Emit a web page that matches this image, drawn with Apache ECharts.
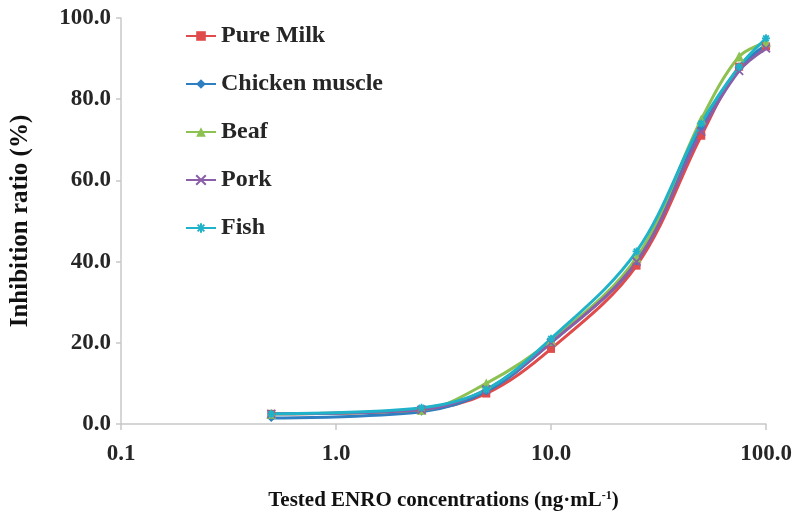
<!DOCTYPE html>
<html>
<head>
<meta charset="utf-8">
<script src="https://cdn.jsdelivr.net/npm/echarts@6/dist/echarts.min.js"></script>
<style>
  html, body { margin: 0; padding: 0; background: #fff; }
  #chart { width: 798px; height: 525px; }
</style>
</head>
<body>
<div id="chart"></div>
<script>
// concentrations (ng/mL)
const concentrations = [0.5, 2.5, 5, 10, 25, 50, 75, 100]

// inhibition ratio (%)
const pureMilk = [2.5, 3.5, 7.5, 18.5, 39.0, 71.0, 88.0, 93.0]
const chickenMuscle = [1.5, 3.0, 8.0, 20.0, 40.0, 73.0, 87.5, 93.5]
const beaf = [2.5, 3.5, 10.0, 20.5, 41.0, 75.0, 90.5, 94.0]
const pork = [2.5, 3.5, 8.5, 20.0, 40.0, 72.0, 87.0, 92.5]
const fish = [2.5, 4.0, 8.5, 21.0, 42.5, 74.0, 88.0, 95.0]

const seriesNames = ['Pure Milk', 'Chicken muscle', 'Beaf', 'Pork', 'Fish']
const seriesValues = [pureMilk, chickenMuscle, beaf, pork, fish]
const colors = ['#E04B4B', '#2E7FC1', '#8DC152', '#8A5FA8', '#1FB2C8']
const symbols = [
  'rect',
  'diamond',
  'triangle',
  'path://M0,0L10,10M10,0L0,10',
  'path://M5,0L5,10M0,5L10,5M1.5,1.5L8.5,8.5M8.5,1.5L1.5,8.5'
]

const font = '"Liberation Serif", "Times New Roman", serif'

const chart = echarts.init(document.getElementById('chart'))

const option = {
  animation: false,
  color: colors,
  grid: { left: 118, right: 32, top: 18, bottom: 101 },
  legend: {
    orient: 'vertical',
    left: 180,
    top: 19,
    itemGap: 24,
    itemWidth: 30,
    itemHeight: 12,
    textStyle: { fontFamily: font, fontWeight: 'bold', fontSize: 24, color: '#262626' },
    data: seriesNames
  },
  xAxis: {
    type: 'log',
    logBase: 10,
    min: 0.1,
    max: 100,
    name: 'Tested ENRO concentrations (ng·mL{sup|-1})',
    nameLocation: 'middle',
    nameGap: 66,
    nameTextStyle: {
      fontFamily: font, fontWeight: 'bold', fontSize: 21, color: '#111',
      rich: { sup: { fontFamily: font, fontWeight: 'bold', fontSize: 12, verticalAlign: 'top', padding: [0, 0, 8, 0], color: '#111' } }
    },
    axisLine: { lineStyle: { color: '#c8c8c8', width: 1.5 } },
    axisTick: { show: true, inside: false, length: 6, lineStyle: { color: '#c8c8c8', width: 1.5 } },
    minorTick: { show: false },
    splitLine: { show: false },
    axisLabel: {
      margin: 19,
      fontFamily: font, fontWeight: 'bold', fontSize: 23, color: '#262626',
      formatter: v => v.toFixed(1)
    }
  },
  yAxis: {
    type: 'value',
    min: 0,
    max: 100,
    interval: 20,
    name: 'Inhibition ratio (%)',
    nameLocation: 'middle',
    nameGap: 88,
    nameTextStyle: { fontFamily: font, fontWeight: 'bold', fontSize: 25, color: '#111' },
    axisLine: { show: true, lineStyle: { color: '#c8c8c8', width: 1.5 } },
    axisTick: { show: true, inside: false, length: 5, lineStyle: { color: '#c8c8c8', width: 1.5 } },
    splitLine: { show: false },
    axisLabel: {
      margin: 10,
      fontFamily: font, fontWeight: 'bold', fontSize: 23, color: '#262626',
      formatter: v => v.toFixed(1)
    }
  },
  series: seriesNames.map((name, i) => ({
    name: name,
    type: 'line',
    smooth: 0.35,
    symbol: symbols[i],
    symbolSize: i === 2 ? 10 : 8,
    showSymbol: true,
    data: concentrations.map((c, j) => [c, seriesValues[i][j]]),
    lineStyle: { color: colors[i], width: 3 },
    itemStyle: { color: colors[i], borderColor: colors[i], borderWidth: i >= 3 ? 1.8 : 0 }
  }))
}

chart.setOption(option)
</script>
</body>
</html>
